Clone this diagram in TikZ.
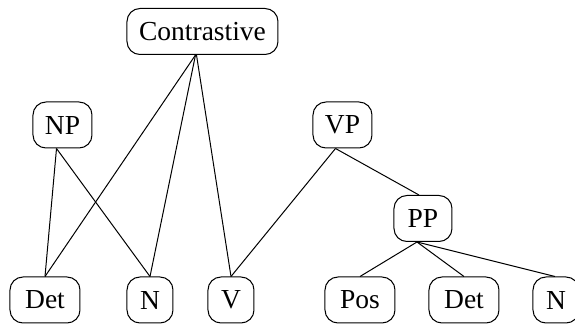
\documentclass[tikz,border=0pt]{standalone}
\usepackage{fontspec}
\setmainfont{Liberation Serif}
\begin{document}
\begin{tikzpicture}[x=0.5pt,y=-0.5pt,
  tbox/.style={draw, rounded corners=6.5pt, line width=0.5pt, minimum height=23pt, inner sep=0pt, font=\fontsize{13.75}{16}\selectfont},
  link/.style={line width=0.5pt}]
\useasboundingbox (0,0) rectangle (575,326);
\node[tbox, minimum width=75.5pt] (C) at (202.5,31.5) {Contrastive};
\node[tbox, minimum width=29.5pt] (NP) at (62.5,125) {NP};
\node[tbox, minimum width=29.5pt] (VP) at (342.5,125) {VP};
\node[tbox, minimum width=29pt] (PP) at (423,218.5) {PP};
\node[tbox, minimum width=35pt] (Det) at (45,300) {Det};
\node[tbox, minimum width=23pt] (N) at (150,300) {N};
\node[tbox, minimum width=23pt] (V) at (231,300) {V};
\node[tbox, minimum width=35pt] (Pos) at (360,300) {Pos};
\node[tbox, minimum width=35pt] (Det2) at (464,300) {Det};
\node[tbox, minimum width=23pt] (N2) at (556,300) {N};
\draw[link] ([xshift=-3.5pt]C.south) -- (Det.north);
\draw[link] ([xshift=-3.5pt]C.south) -- (N.north);
\draw[link] ([xshift=-3pt]C.south) -- (V.north);
\draw[link] ([xshift=-3pt]NP.south) -- (Det.north);
\draw[link] ([xshift=-3pt]NP.south) -- (N.north);
\draw[link] ([xshift=-3.5pt]VP.south) -- (V.north);
\draw[link] ([xshift=-3.5pt]VP.south) -- ([xshift=-2pt]PP.north);
\draw[link] ([xshift=-3pt]PP.south) -- (Pos.north);
\draw[link] ([xshift=-3pt]PP.south) -- (Det2.north);
\draw[link] ([xshift=-3pt]PP.south) -- ([xshift=-0.5pt]N2.north);
\end{tikzpicture}
\end{document}
